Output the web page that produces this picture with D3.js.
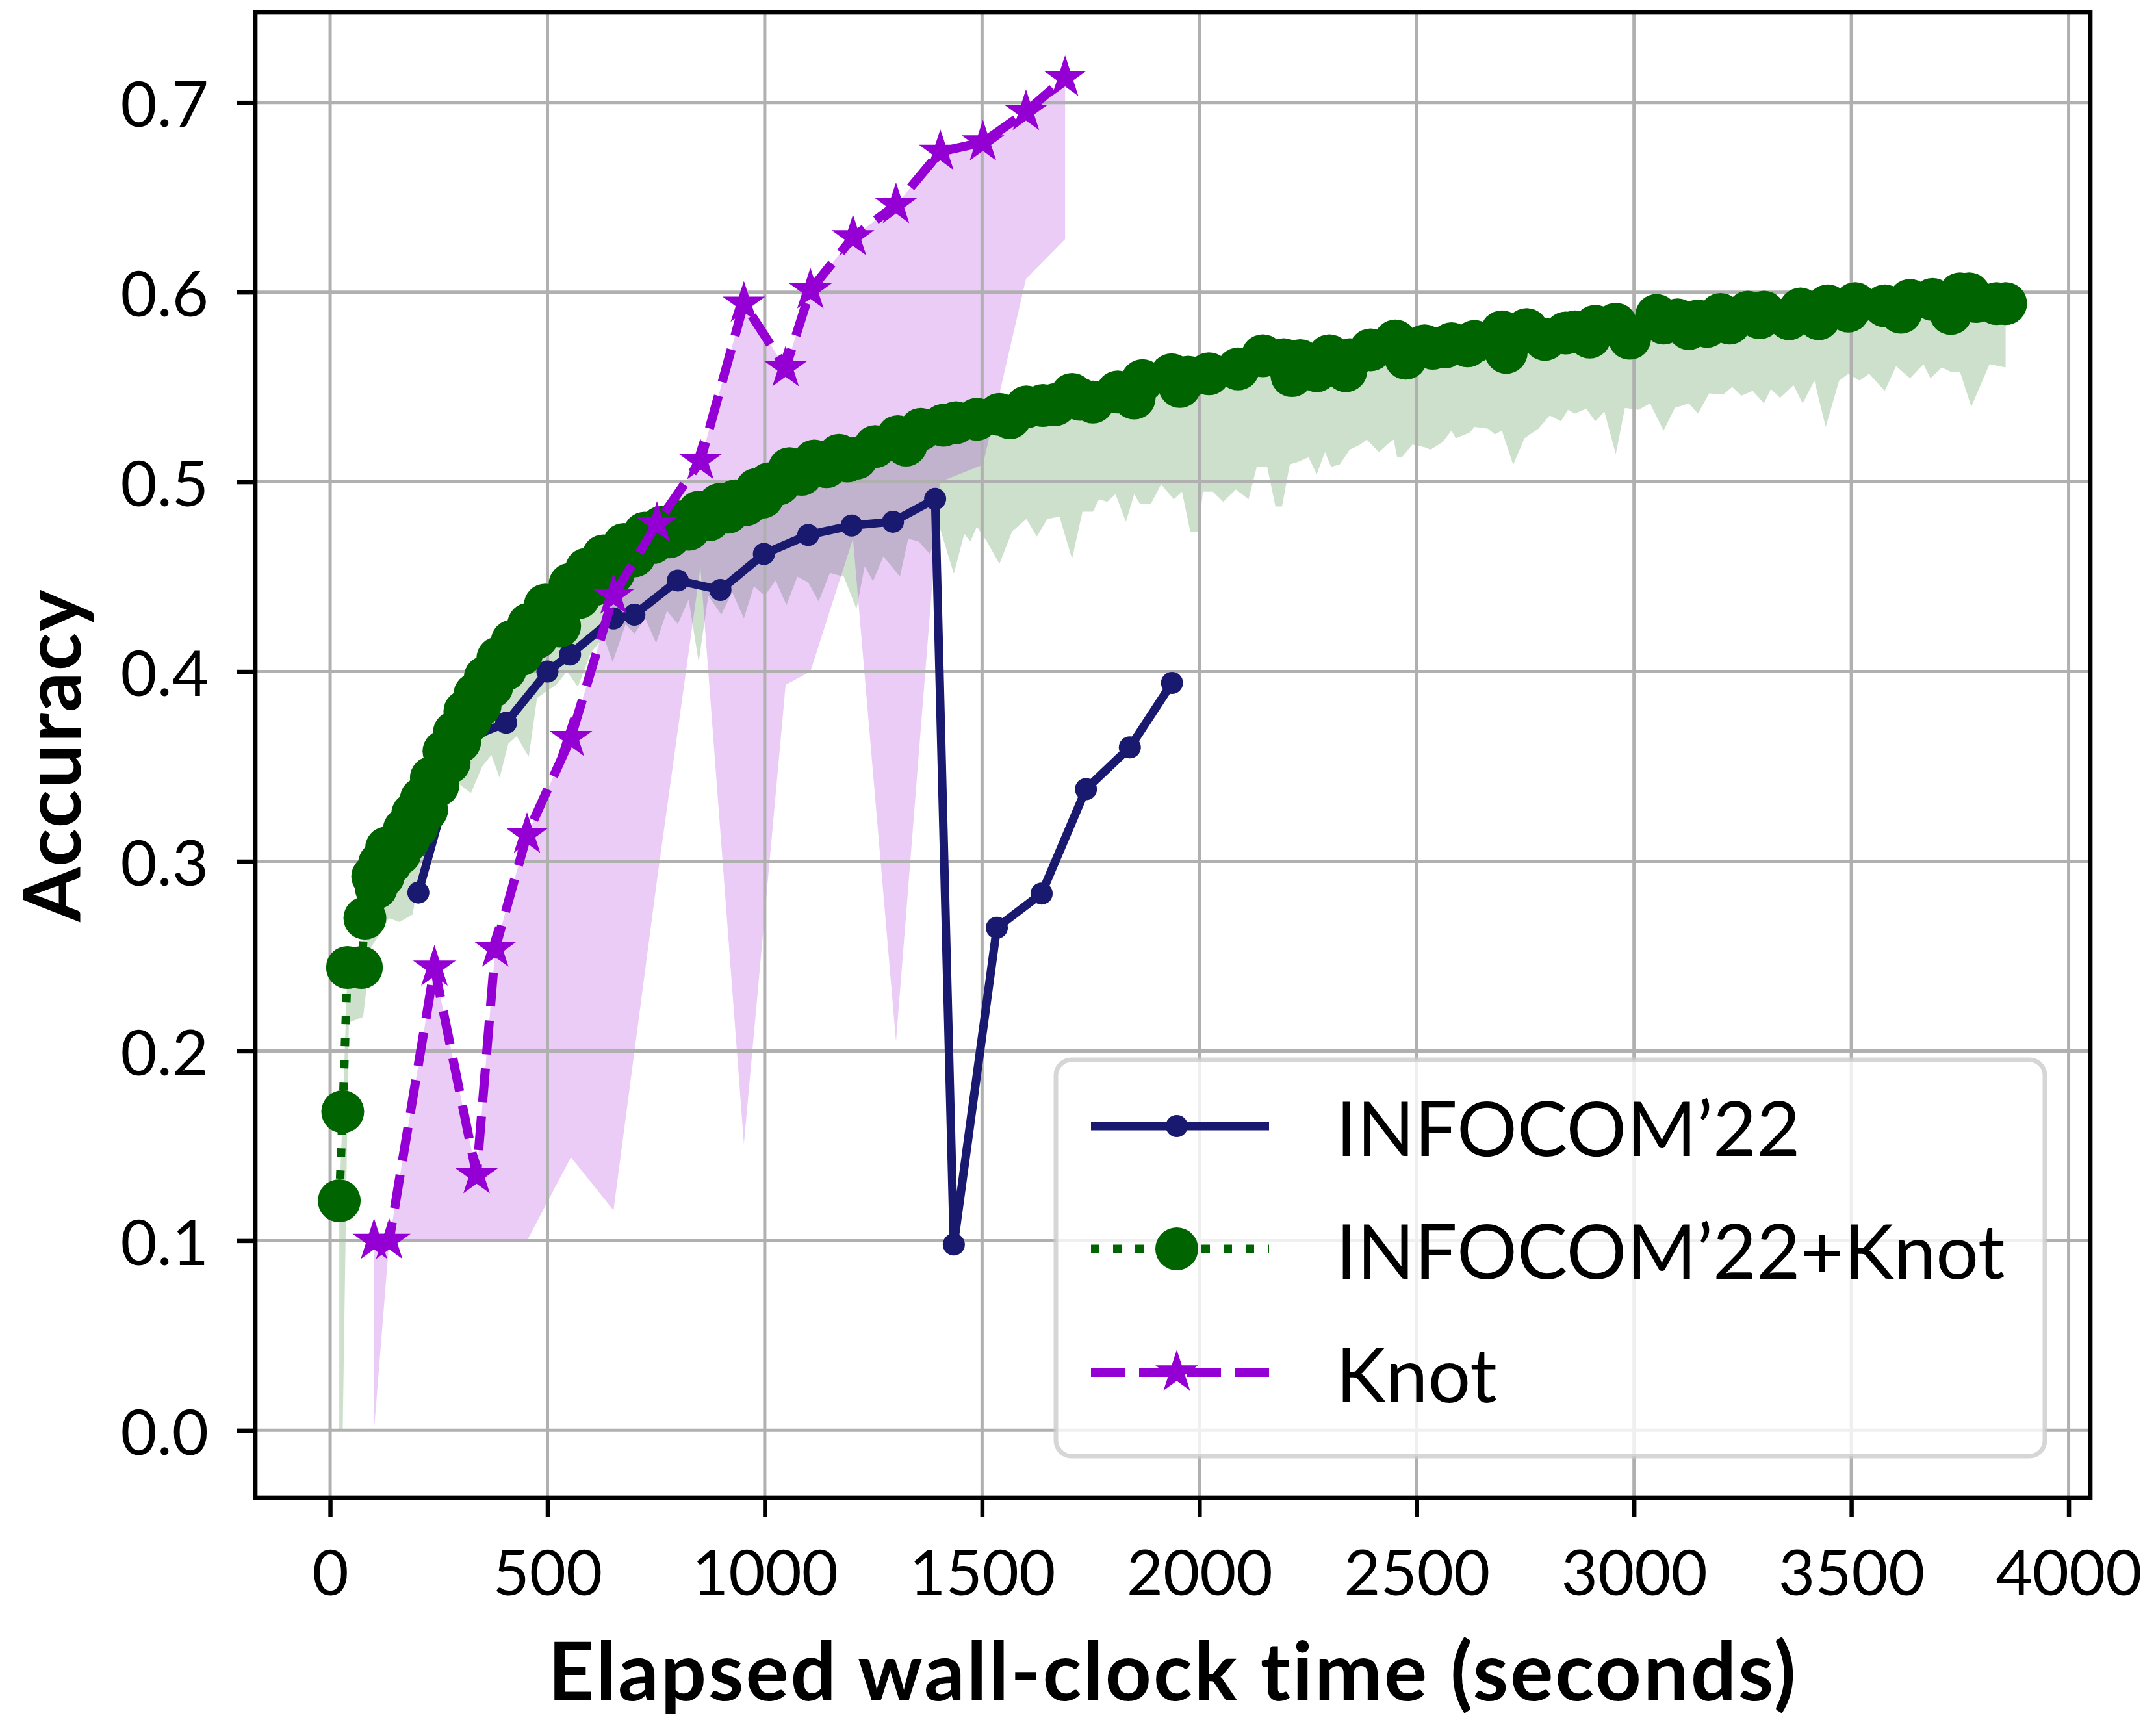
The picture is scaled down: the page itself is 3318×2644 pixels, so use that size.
<!DOCTYPE html>
<html>
<head>
<meta charset="utf-8">
<script src="https://cdn.jsdelivr.net/npm/d3@7"></script>
<style>
  body { margin: 0; background: #fff; }
  svg { display: block; }
  text { font-family: Lato, 'Noto Sans', sans-serif; fill: #000; }
</style>
</head>
<body>
<div id="chart"></div>
<script>
// INFOCOM'22 baseline
var baseTime = [203, 300, 405, 500, 552, 652, 700, 800, 898, 998, 1100, 1200, 1295, 1392, 1435, 1534, 1637, 1739, 1840, 1937]
var baseAcc = [0.2835, 0.363, 0.373, 0.400, 0.409, 0.428, 0.430, 0.448, 0.443, 0.462, 0.472, 0.477, 0.479, 0.491, 0.098, 0.265, 0.283, 0.338, 0.360, 0.394]

// INFOCOM'22 + Knot (line and lower edge of its band)
var comboTime = [21, 29, 40, 72, 80, 98, 106, 114, 122, 130, 140, 148, 160, 171, 180, 190, 200, 210, 222, 233,
  248, 262, 274, 286, 298, 310, 322, 333, 345, 357, 372, 386, 403, 419, 440, 457, 476, 495, 510, 528,
  552, 572, 590, 610, 629, 652, 676, 700, 724, 743, 762, 780, 800, 825, 848, 872, 895, 915, 933, 957,
  981, 995, 1010, 1033, 1057, 1085, 1114, 1142, 1171, 1190, 1211, 1254, 1306, 1325, 1359, 1411, 1440, 1488, 1540, 1564,
  1602, 1640, 1669, 1707, 1726, 1755, 1812, 1850, 1869, 1936, 1955, 1974, 2022, 2089, 2146, 2194, 2213, 2232, 2270, 2299,
  2337, 2346, 2394, 2451, 2475, 2518, 2537, 2565, 2580, 2617, 2633, 2696, 2706, 2753, 2795, 2843, 2864, 2898, 2911, 2958,
  2990, 3052, 3068, 3100, 3126, 3147, 3168, 3199, 3220, 3262, 3289, 3299, 3357, 3383, 3425, 3446, 3493, 3509, 3577, 3614,
  3635, 3687, 3729, 3750, 3771, 3787, 3834, 3855]
var comboAcc = [0.121, 0.168, 0.244, 0.244, 0.270, 0.292, 0.286, 0.299, 0.292, 0.307, 0.299, 0.309, 0.304, 0.317, 0.311, 0.325, 0.318, 0.333, 0.327, 0.344,
  0.340, 0.358, 0.352, 0.368, 0.363, 0.379, 0.374, 0.388, 0.382, 0.397, 0.392, 0.407, 0.401, 0.416, 0.409, 0.425, 0.418, 0.435, 0.426, 0.424,
  0.446, 0.439, 0.454, 0.446, 0.461, 0.452, 0.467, 0.461, 0.473, 0.468, 0.476, 0.471, 0.479, 0.475, 0.484, 0.480, 0.488, 0.484, 0.490, 0.488,
  0.496, 0.492, 0.499, 0.499, 0.507, 0.504, 0.511, 0.508, 0.514, 0.511, 0.5125, 0.5186, 0.5238, 0.5194, 0.5277, 0.5298, 0.5312, 0.533, 0.5356, 0.5338,
  0.5395, 0.5403, 0.5408, 0.5461, 0.5435, 0.5421, 0.5474, 0.5442, 0.5534, 0.5565, 0.5503, 0.5552, 0.557, 0.5595, 0.5665, 0.5644, 0.556, 0.5639, 0.5586, 0.5665,
  0.5586, 0.5644, 0.5696, 0.5743, 0.5652, 0.5717, 0.5704, 0.5711, 0.5728, 0.5717, 0.574, 0.5791, 0.5683, 0.5803, 0.5751, 0.5785, 0.5791, 0.5763, 0.582, 0.5831,
  0.5757, 0.5877, 0.5837, 0.5854, 0.5808, 0.5848, 0.582, 0.5882, 0.5837, 0.5894, 0.5865, 0.5894, 0.586, 0.5911, 0.586, 0.5928, 0.590, 0.594, 0.5928, 0.5894,
  0.5957, 0.5962, 0.5888, 0.5991, 0.5991, 0.5951, 0.594, 0.594]
var comboLowTime = [21, 29, 43, 76, 95, 115, 135, 160, 190, 210, 229, 250, 270, 295, 324, 350, 371, 390, 410, 429,
  457, 476, 500, 520, 545, 570, 600, 630, 650, 680, 700, 725, 750, 775, 800, 825, 848, 870, 900, 925,
  952, 975, 1000, 1025, 1050, 1075, 1100, 1124, 1150, 1182, 1211, 1230, 1249, 1273, 1311, 1330, 1354, 1380, 1402, 1435,
  1459, 1473, 1488, 1511, 1540, 1569, 1602, 1626, 1650, 1678, 1707, 1731, 1755, 1769, 1788, 1807, 1831, 1850, 1864, 1888,
  1912, 1941, 1960, 1979, 1998, 2008, 2031, 2055, 2084, 2113, 2132, 2156, 2175, 2190, 2208, 2227, 2251, 2270, 2289, 2303,
  2323, 2346, 2370, 2385, 2413, 2432, 2447, 2455, 2466, 2490, 2518, 2532, 2560, 2580, 2590, 2622, 2633, 2664, 2680, 2696,
  2722, 2748, 2780, 2806, 2832, 2848, 2864, 2890, 2911, 2932, 2958, 2979, 3010, 3037, 3068, 3094, 3126, 3147, 3173, 3205,
  3226, 3247, 3273, 3299, 3315, 3336, 3367, 3388, 3415, 3441, 3472, 3493, 3519, 3541, 3577, 3603, 3635, 3666, 3682, 3708,
  3729, 3750, 3776, 3818, 3855]
var comboLowAcc = [0.0, 0.0, 0.215, 0.218, 0.255, 0.262, 0.270, 0.268, 0.272, 0.300, 0.296, 0.322, 0.330, 0.341, 0.336, 0.350, 0.356, 0.344, 0.362, 0.366,
  0.355, 0.386, 0.390, 0.393, 0.400, 0.392, 0.410, 0.418, 0.405, 0.425, 0.420, 0.428, 0.415, 0.432, 0.425, 0.438, 0.405, 0.440, 0.430, 0.442,
  0.428, 0.445, 0.440, 0.448, 0.435, 0.450, 0.447, 0.437, 0.452, 0.450, 0.433, 0.4555, 0.4476, 0.4607, 0.450, 0.470, 0.4686, 0.462, 0.4764, 0.4516,
  0.4725, 0.4686, 0.4764, 0.4686, 0.4568, 0.4738, 0.4804, 0.4712, 0.4804, 0.4817, 0.4594, 0.4843, 0.4843, 0.4908, 0.4895, 0.4935, 0.479, 0.4935, 0.4882, 0.4882,
  0.4987, 0.4908, 0.4948, 0.4738, 0.4738, 0.4948, 0.4948, 0.4895, 0.496, 0.4908, 0.5079, 0.5079, 0.487, 0.487, 0.5092, 0.5105, 0.513, 0.504, 0.5157, 0.5079,
  0.5092, 0.517, 0.5196, 0.5223, 0.5157, 0.5196, 0.5223, 0.513, 0.513, 0.5196, 0.5183, 0.517, 0.521, 0.527, 0.523, 0.526, 0.529, 0.528, 0.525, 0.527,
  0.509, 0.523, 0.528, 0.535, 0.532, 0.538, 0.536, 0.5386, 0.532, 0.537, 0.5146, 0.539, 0.538, 0.5414, 0.527, 0.539, 0.5414, 0.536, 0.5466, 0.546,
  0.550, 0.5454, 0.548, 0.5414, 0.5489, 0.5443, 0.551, 0.5414, 0.5534, 0.529, 0.5534, 0.557, 0.5534, 0.557, 0.548, 0.561, 0.5546, 0.562, 0.5546, 0.5603,
  0.558, 0.558, 0.5397, 0.562, 0.5603]

// Knot (line and lower edge of its band)
var knotTime = [101, 136, 240, 337, 380, 453, 554, 652, 752, 852, 952, 1048, 1105, 1203, 1302, 1404, 1502, 1601, 1691]
var knotAcc = [0.100, 0.100, 0.244, 0.1346, 0.254, 0.314, 0.365, 0.440, 0.478, 0.511, 0.594, 0.560, 0.601, 0.629, 0.646, 0.674, 0.679, 0.695, 0.713]
var knotLowAcc = [0.0, 0.10, 0.10, 0.10, 0.10, 0.10, 0.144, 0.116, 0.29, 0.455, 0.151, 0.393, 0.40, 0.47, 0.205, 0.50, 0.509, 0.607, 0.628]

var xTicks = [0, 500, 1000, 1500, 2000, 2500, 3000, 3500, 4000]
var yTicks = [0, 0.1, 0.2, 0.3, 0.4, 0.5, 0.6, 0.7]
var seriesNames = ['INFOCOM’22', 'INFOCOM’22+Knot', 'Knot']

var W = 3318, H = 2644
var plot = {left: 393, right: 3217, top: 19, bottom: 2305}

var svg = d3.select('#chart').append('svg')
  .attr('width', W).attr('height', H)
svg.append('rect').attr('width', W).attr('height', H).attr('fill', '#fff')

var x = d3.scaleLinear().domain([-172, 4050]).range([plot.left, plot.right])
var y = d3.scaleLinear().domain([-0.0355, 0.7475]).range([plot.bottom, plot.top])

var zip = (ts, vs) => ts.map((t, i) => [t, vs[i]])
var line = d3.line().x(d => x(d[0])).y(d => y(d[1]))

// bands: upper edge is the series line, lower edge its own points
function band(upper, lower, color){
  var pts = upper.concat(lower.slice().reverse())
  svg.append('path')
    .attr('d', line(pts) + 'Z')
    .attr('fill', color)
    .attr('fill-opacity', 0.2)
}
band(zip(comboTime, comboAcc), zip(comboLowTime, comboLowAcc), '#006400')
band(zip(knotTime, knotAcc), zip(knotTime, knotLowAcc), '#9400d3')

// grid sits above the bands, below the lines
var grid = svg.append('g').attr('stroke', '#b0b0b0').attr('stroke-width', 5)
grid.selectAll('line.gx').data(xTicks).join('line')
  .attr('class', 'gx')
  .attr('x1', d => x(d)).attr('x2', d => x(d))
  .attr('y1', plot.top).attr('y2', plot.bottom)
grid.selectAll('line.gy').data(yTicks).join('line')
  .attr('class', 'gy')
  .attr('x1', plot.left).attr('x2', plot.right)
  .attr('y1', d => y(d)).attr('y2', d => y(d))

// INFOCOM'22
svg.append('path').datum(zip(baseTime, baseAcc))
  .attr('d', line).attr('fill', 'none')
  .attr('stroke', '#191970').attr('stroke-width', 13).attr('stroke-linejoin', 'round')
svg.append('g').selectAll('circle').data(zip(baseTime, baseAcc)).join('circle')
  .attr('cx', d => x(d[0])).attr('cy', d => y(d[1])).attr('r', 17)
  .attr('fill', '#191970')

// INFOCOM'22+Knot
svg.append('path').datum(zip(comboTime, comboAcc))
  .attr('d', line).attr('fill', 'none')
  .attr('stroke', '#006400').attr('stroke-width', 13).attr('stroke-dasharray', '13,21')
svg.append('g').selectAll('circle').data(zip(comboTime, comboAcc)).join('circle')
  .attr('cx', d => x(d[0])).attr('cy', d => y(d[1])).attr('r', 33)
  .attr('fill', '#006400')

// Knot
var star = d3.symbol().type(d3.symbolStar).size(1350)
svg.append('path').datum(zip(knotTime, knotAcc))
  .attr('d', line).attr('fill', 'none')
  .attr('stroke', '#9400d3').attr('stroke-width', 14).attr('stroke-dasharray', '52,22')
svg.append('g').selectAll('path').data(zip(knotTime, knotAcc)).join('path')
  .attr('d', star)
  .attr('transform', d => `translate(${x(d[0])},${y(d[1])})`)
  .attr('fill', '#9400d3')

// axes
var xAxis = svg.append('g').attr('transform', `translate(0,${plot.bottom})`)
  .call(d3.axisBottom(x).tickValues(xTicks).tickFormat(d3.format('d')).tickSize(29).tickPadding(52))
var yAxis = svg.append('g').attr('transform', `translate(${plot.left},0)`)
  .call(d3.axisLeft(y).tickValues(yTicks).tickFormat(d3.format('.1f')).tickSize(29).tickPadding(43))
;[xAxis, yAxis].forEach(a => {
  a.attr('font-family', null).attr('font-size', null)
  a.select('.domain').remove()
  a.selectAll('.tick line').attr('stroke', '#000').attr('stroke-width', 6.5)
  a.selectAll('.tick text').style('font-size', '97px')
})
yAxis.selectAll('.tick text').attr('dy', '0.38em')

svg.append('rect')
  .attr('x', plot.left).attr('y', plot.top)
  .attr('width', plot.right - plot.left).attr('height', plot.bottom - plot.top)
  .attr('fill', 'none').attr('stroke', '#000').attr('stroke-width', 6.7)

svg.append('text').text('Elapsed wall-clock time (seconds)')
  .attr('x', (plot.left + plot.right) / 2).attr('y', 2617)
  .attr('text-anchor', 'middle')
  .style('font-size', '124px').style('font-weight', 700).style('letter-spacing', '2.9px')

svg.append('text').text('Accuracy')
  .attr('transform', `translate(124,${(plot.top + plot.bottom) / 2}) rotate(-90)`)
  .attr('text-anchor', 'middle')
  .style('font-size', '121px').style('font-weight', 700).style('letter-spacing', '2.4px')

// legend
var leg = svg.append('g')
leg.append('rect')
  .attr('x', 1625).attr('y', 1631).attr('width', 1522).attr('height', 610)
  .attr('rx', 24)
  .attr('fill', '#fff').attr('fill-opacity', 0.8)
  .attr('stroke', '#ccc').attr('stroke-opacity', 0.8).attr('stroke-width', 7)

var rowY = [1733, 1922, 2112]
var styles = [
  {color: '#191970', width: 13, dash: null},
  {color: '#006400', width: 13, dash: '13,21'},
  {color: '#9400d3', width: 14, dash: '52,22'},
]
seriesNames.forEach((name, i) => {
  var s = styles[i]
  leg.append('line')
    .attr('x1', 1679).attr('x2', 1953).attr('y1', rowY[i]).attr('y2', rowY[i])
    .attr('stroke', s.color).attr('stroke-width', s.width)
    .attr('stroke-dasharray', s.dash)
  if (i == 0) leg.append('circle').attr('cx', 1811).attr('cy', rowY[i]).attr('r', 17).attr('fill', s.color)
  if (i == 1) leg.append('circle').attr('cx', 1811).attr('cy', rowY[i]).attr('r', 33).attr('fill', s.color)
  if (i == 2) leg.append('path').attr('d', star).attr('transform', `translate(1811,${rowY[i]})`).attr('fill', s.color)
  leg.append('text').text(name)
    .attr('x', 2056).attr('y', rowY[i] + 46)
    .style('font-size', '116px')
})
</script>
</body>
</html>
